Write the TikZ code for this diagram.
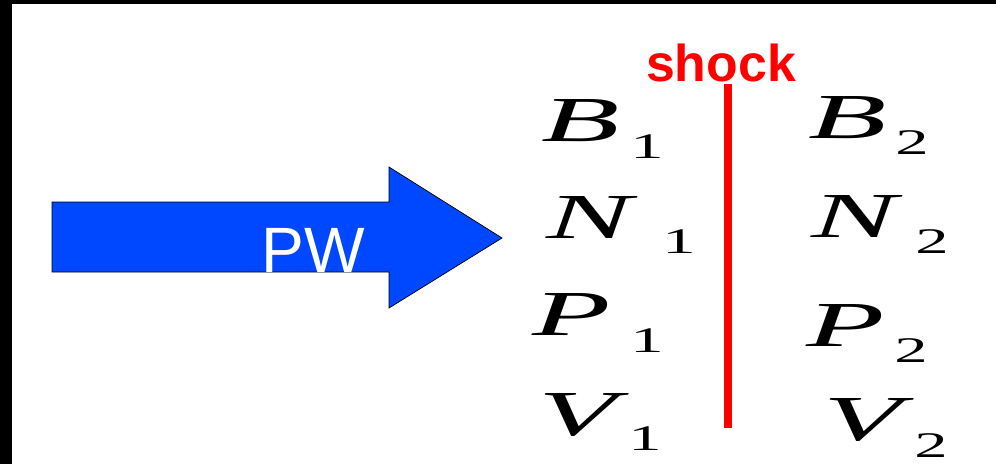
\documentclass[tikz,border=0pt]{standalone}
\usepackage{fontspec}
\usepackage{graphicx}
\setmainfont{Liberation Serif}
\newfontfamily\arialfont{Liberation Sans}
\usepackage{tikz}
\definecolor{pwblue}{RGB}{0,72,255}
\definecolor{shockred}{RGB}{255,0,0}
\tikzset{
  varletter/.style={anchor=base west, inner sep=0pt, font=\fontsize{36.5}{36.5}\selectfont\itshape},
  varindex/.style={anchor=base west, inner sep=0pt, font=\fontsize{20.5}{20.5}\selectfont},
}
\newcommand{\statevar}[5] {\node at (#1) (#2) [varletter] {\scalebox{2}[1]{#3}}; \node at (#4) (#2sub) [varindex] {\scalebox{1.85}[1]{#5}};}

\begin{document}
\begin{tikzpicture}[x=0.02cm, y=-0.02cm]
\useasboundingbox (0,0) rectangle (996,464);
\fill [black] (0,0) rectangle (996,4);
\fill [black] (0,0) rectangle (12,464);

% plane wave
\draw [fill=pwblue, draw=black, line width=0.4pt] (52,202) -- (389,202) -- (389,167) -- (502,238) -- (389,308) -- (389,272) -- (52,272) -- cycle;
\node at (261,272) (PW) [anchor=base west, inner sep=0pt, text=white, font=\arialfont\fontsize{36.5}{36.5}\selectfont] {PW};

% shock front
\node at (721,81) (shock) [anchor=base, inner sep=0pt, text=shockred, font=\arialfont\bfseries\fontsize{29.5}{29.5}\selectfont] {shock};
\coordinate (top) at (728,84);
\coordinate (bottom) at (728,428);
\draw [shockred, line width=4.5pt] (top) -- (bottom);

\statevar {541,141} {B1} {B} {630,158} {1};
\statevar {546,238} {N1} {N} {662,253} {1};
\statevar {532,335} {P1} {P} {630,352} {1};
\statevar {538,435} {V1} {V} {628,450} {1};
\statevar {808,138} {B2} {B} {895,154} {2};
\statevar {811,237} {N2} {N} {915,253} {2};
\statevar {806,346} {P2} {P} {894,362} {2};
\statevar {823,440} {V2} {V} {914,457} {2};

\end{tikzpicture}
\end{document}
